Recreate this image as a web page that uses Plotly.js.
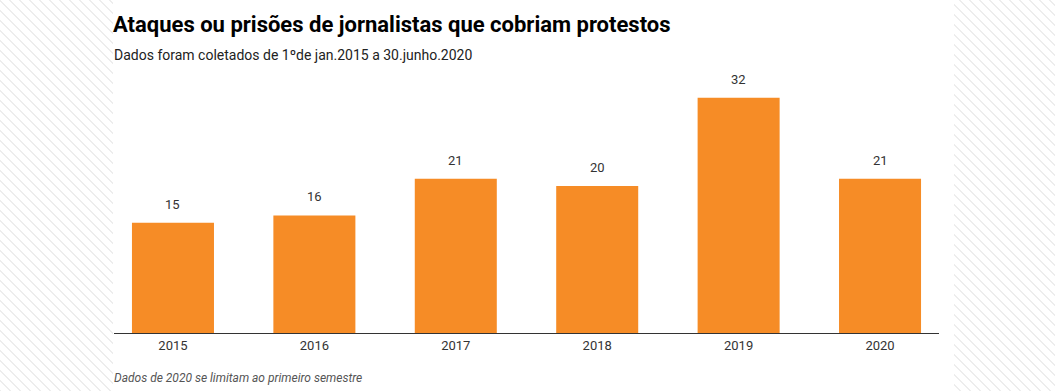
<!DOCTYPE html>
<html><head><meta charset="utf-8">
<script src="https://cdn.plot.ly/plotly-3.0.1.min.js"></script>
<style>
html,body{margin:0;padding:0;width:1055px;height:391px;overflow:hidden;}
body{background:repeating-linear-gradient(45deg,#ededed 0px,#ededed 1px,#ffffff 1px,#ffffff 7.07px);}
#white{position:absolute;left:113px;top:0;width:841px;height:391px;background:#fff;}
#chart{position:absolute;left:0;top:0;width:1055px;height:391px;}
</style></head>
<body>
<div id="white"></div>
<div id="chart"></div>
<script>
const years = ["2015","2016","2017","2018","2019","2020"];
const values = [15, 16, 21, 20, 32, 21];
const titleText = "Ataques ou prisões de jornalistas que cobriam protestos";
const subtitleText = "Dados foram coletados de 1ºde jan.2015 a 30.junho.2020";
const noteText = "Dados de 2020 se limitam ao primeiro semestre";

const font = "Roboto, 'Open Sans', sans-serif";

const labelAnns = years.map((y, i) => ({
  x: i, y: values[i], xref: 'x', yref: 'y', text: String(values[i]),
  showarrow: false, xanchor: 'center', yanchor: 'bottom', yshift: 9,
  font: {family: font, size: 13, color: '#333'}
}));

const data = [{
  type: 'bar', x: years, y: values,
  marker: {color: '#f68c26'}, hoverinfo: 'none'
}];

const layout = {
  width: 1055, height: 391,
  margin: {l: 114, r: 116, t: 38.5, b: 58, pad: 0},
  paper_bgcolor: 'rgba(0,0,0,0)', plot_bgcolor: 'rgba(0,0,0,0)',
  bargap: 0.42,
  showlegend: false,
  title: {text: '<b>' + titleText + '</b>', xref: 'container', yref: 'container',
          x: 113/1055, xanchor: 'left', y: 1 - 24/391, yanchor: 'middle',
          font: {family: font, size: 22, color: '#000'}},
  xaxis: {type: 'category', range: [-0.417, 5.417], showline: true, linecolor: '#333', linewidth: 1,
          showgrid: false, zeroline: false, ticks: '', fixedrange: true,
          tickfont: {family: font, size: 13, color: '#333'}},
  yaxis: {range: [0, 40], showticklabels: false, showline: false, ticks: '', showgrid: false, zeroline: false, fixedrange: true},
  annotations: labelAnns.concat([
    {xref: 'paper', yref: 'paper', x: 0, xanchor: 'left', xshift: -2, y: (333-55)/294.5, yanchor: 'middle',
     text: subtitleText, showarrow: false, font: {family: font, size: 14, color: '#222'}},
    {xref: 'paper', yref: 'paper', x: 0, xanchor: 'left', xshift: -2, y: (333-378)/294.5, yanchor: 'middle',
     text: '<i>' + noteText + '</i>', showarrow: false, font: {family: font, size: 12, color: '#555'}}
  ])
};
Plotly.newPlot('chart', data, layout, {displayModeBar: false, staticPlot: true});
</script>
</body></html>
